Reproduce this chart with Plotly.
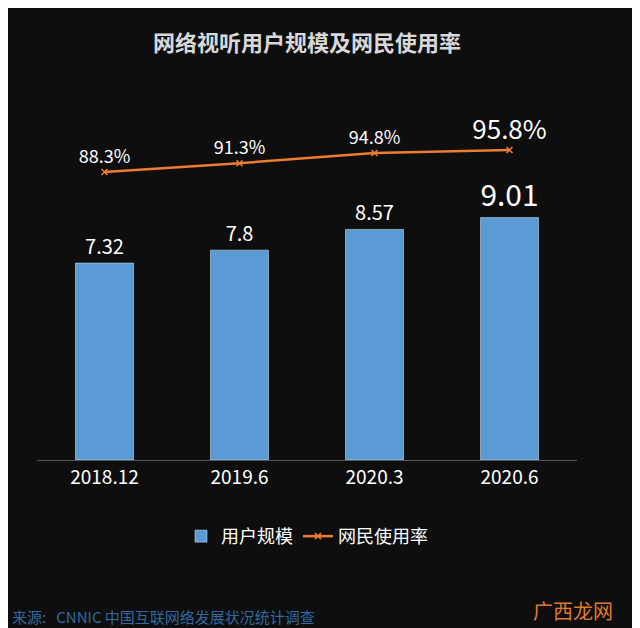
import plotly.graph_objects as go

categories = ["2018.12", "2019.6", "2020.3", "2020.6"]
users = [7.32, 7.8, 8.57, 9.01]
rate = [88.3, 91.3, 94.8, 95.8]
user_labels = ["7.32", "7.8", "8.57", "9.01"]
rate_labels = ["88.3%", "91.3%", "94.8%", "95.8%"]

font = "Noto Sans CJK SC"
fig = go.Figure()
fig.add_trace(go.Bar(x=categories, y=users, name="用户规模", marker_color="#5B9BD5",
                     width=0.43, text=user_labels, textposition="outside", cliponaxis=False,
                     textfont=dict(color="white", size=[20, 20, 20, 36], family=font)))
fig.add_trace(go.Scatter(x=categories, y=rate, name="网民使用率", yaxis="y2",
                         mode="lines+markers+text", line=dict(color="#ED7D31", width=2.5),
                         marker=dict(symbol="x-thin", size=6, line=dict(color="#ED7D31", width=1.5)),
                         text=rate_labels, textposition="top center", cliponaxis=False,
                         textfont=dict(color="white", size=[18, 18, 18, 26], family=font)))
fig.update_layout(
    width=640, height=628, paper_bgcolor="#0e0e0e", plot_bgcolor="#0e0e0e",
    margin=dict(l=29, r=71, t=60, b=176),
    font=dict(family=font, color="white"),
    showlegend=True,
    legend=dict(orientation="h", x=0.5, xanchor="center", y=-0.195, yanchor="middle",
                font=dict(size=18, color="white")),
    xaxis=dict(showgrid=False, tickfont=dict(size=19, color="white"),
               showline=True, linecolor="#555"),
    yaxis=dict(range=[0, 14.57], visible=False, showgrid=False),
    yaxis2=dict(range=[-10, 123.8], overlaying="y", visible=False, showgrid=False),
    annotations=[
        dict(text="<b>网络视听用户规模及网民使用率</b>", x=0.5, y=1.07, xref="paper", yref="paper",
             yanchor="middle", showarrow=False, font=dict(size=22, color="#d8d8d8")),
        dict(text="来源:   CNNIC 中国互联网络发展状况统计调查", x=-0.05, y=-0.398, xref="paper",
             yref="paper", xanchor="left", yanchor="middle", showarrow=False,
             font=dict(size=15, color="#2f6aa0")),
        dict(text="广西龙网", x=1.07, y=-0.385, xref="paper", yref="paper", xanchor="right",
             yanchor="middle", showarrow=False, font=dict(size=20, color="#e07a30")),
    ],
)
fig.write_html("out.html")
